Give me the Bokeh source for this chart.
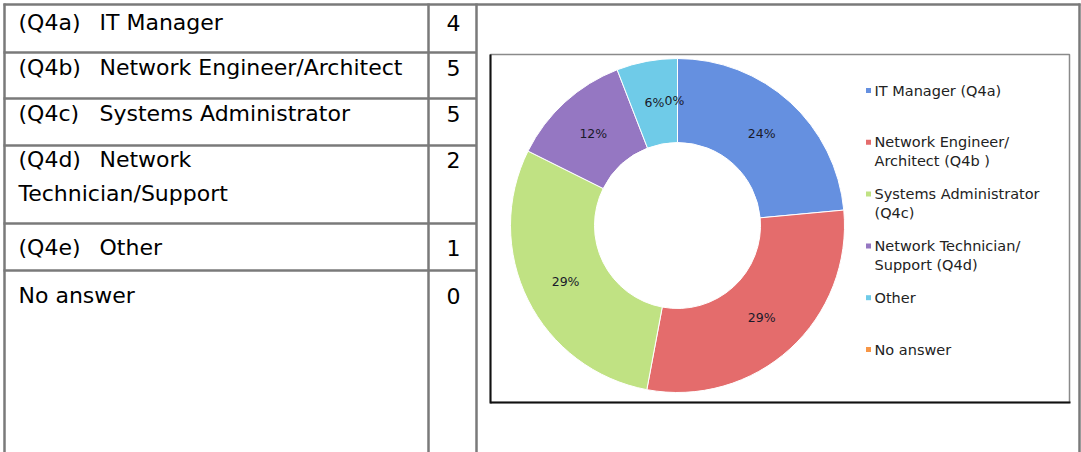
import math
from bokeh.plotting import figure
from bokeh.models import Range1d, ColumnDataSource
from bokeh.core.properties import value
from bokeh.embed import file_html
from bokeh.resources import INLINE

# ---------------- data ----------------
row_codes = ["(Q4a)", "(Q4b)", "(Q4c)", "(Q4d)", "(Q4e)", ""]
row_names = ["IT Manager",
             "Network Engineer/Architect",
             "Systems Administrator",
             "Network\nTechnician/Support",
             "Other",
             "No answer"]
counts = [4, 5, 5, 2, 1, 0]
legend_labels = ["IT Manager (Q4a)",
                 "Network Engineer/\nArchitect (Q4b )",
                 "Systems Administrator\n(Q4c)",
                 "Network Technician/\nSupport (Q4d)",
                 "Other",
                 "No answer"]
colors = ["#6590e0", "#e46c6c", "#c0e283", "#9577c2", "#6fcbe8", "#f79646"]

# ---------------- layout ----------------
W, H = 1081, 452
def Y(v):
    return H - v

p = figure(width=W, height=H, x_range=Range1d(0, W), y_range=Range1d(0, H),
           output_backend="svg", toolbar_location=None, min_border=0,
           x_axis_location=None, y_axis_location=None)
p.grid.visible = False
p.outline_line_color = None
p.background_fill_color = "white"
p.border_fill_color = "white"

# table grid
gc = "#7a7a7a"
lw = 2.5
p.segment(x0=[3], y0=[Y(4)], x1=[1080], y1=[Y(4)], line_color=gc, line_width=lw)
for xv in [4, 428, 476, 1079]:
    p.segment(x0=[xv], y0=[Y(3)], x1=[xv], y1=[Y(452)], line_color=gc, line_width=lw)
for yv in [52, 98, 145, 223, 270]:
    p.segment(x0=[3], y0=[Y(yv)], x1=[476], y1=[Y(yv)], line_color=gc, line_width=lw)

# table texts
row_centers = [22, 67, 113, 159, 247, 295]
line_gap = 34
tfont = dict(text_font=value("DejaVu Sans"), text_font_size="22px",
             text_color="#000000", text_baseline="middle")
cx_, cy_, ct_ = [], [], []
nx, ny, nt = [], [], []
for code, name, yc in zip(row_codes, row_names, row_centers):
    if code:
        cx_.append(18); cy_.append(Y(yc)); ct_.append(code)
        first_x = 99
    else:
        first_x = 18
    for k, ln in enumerate(name.split("\n")):
        nx.append(first_x if k == 0 else 18); ny.append(Y(yc + k * line_gap)); nt.append(ln)
p.text(x=cx_, y=cy_, text=ct_, text_align="left", **tfont)
p.text(x=nx, y=ny, text=nt, text_align="left", **tfont)
p.text(x=[453] * len(counts), y=[Y(v) for v in row_centers], text=[str(c) for c in counts],
       text_align="center", **tfont)

# chart box
p.quad(left=[490], right=[1069], top=[Y(54)], bottom=[Y(402)], fill_color="white",
       line_color="#8a8a8a", line_width=1.5)
p.segment(x0=[490, 490], y0=[Y(54), Y(402)], x1=[490, 1070], y1=[Y(403), Y(402)],
          line_color="#111111", line_width=2)

# donut
total = sum(counts)
cx, cy, r_in, r_out = 677, Y(225), 83, 167
starts, ends, mids = [], [], []
acc = 0.0
for c in counts:
    a0 = math.pi / 2 - 2 * math.pi * acc / total
    acc += c
    a1 = math.pi / 2 - 2 * math.pi * acc / total
    starts.append(a0); ends.append(a1); mids.append((a0 + a1) / 2)

src = ColumnDataSource(dict(
    s=[s for s, c in zip(starts, counts) if c > 0],
    e=[e for e, c in zip(ends, counts) if c > 0],
    col=[col for col, c in zip(colors, counts) if c > 0]))
p.annular_wedge(x=cx, y=cy, inner_radius=r_in, outer_radius=r_out,
                start_angle="s", end_angle="e", direction="clock",
                fill_color="col", line_color="white", line_width=1, source=src)

r_lab = (r_in + r_out) / 2
lab_x = [cx + r_lab * math.cos(m) for m in mids]
lab_y = [cy + r_lab * math.sin(m) for m in mids]
lab_x[-1] -= 3  # Excel nudges the zero label beside its neighbour
p.text(x=lab_x, y=lab_y,
       text=[f"{round(100 * c / total)}%" for c in counts],
       text_font=value("DejaVu Sans"), text_font_size="12.5px", text_color="#1a1a2a",
       text_align="center", text_baseline="middle")

# legend
ly0, lstep, lgap = 90, 51.8, 19
sq_x, sq_y, lx, ly, lt = [], [], [], [], []
for i, lab in enumerate(legend_labels):
    yc = ly0 + i * lstep
    sq_x.append(868); sq_y.append(Y(yc))
    for k, ln in enumerate(lab.split("\n")):
        lx.append(874); ly.append(Y(yc + k * lgap)); lt.append(ln)
p.scatter(x=sq_x, y=sq_y, marker="square", size=5, fill_color=colors, line_color=None)
p.text(x=lx, y=ly, text=lt, text_font=value("DejaVu Sans"), text_font_size="14.5px",
       text_color="#222222", text_baseline="middle", text_align="left")

open("out.html", "w").write(file_html(p, INLINE))
